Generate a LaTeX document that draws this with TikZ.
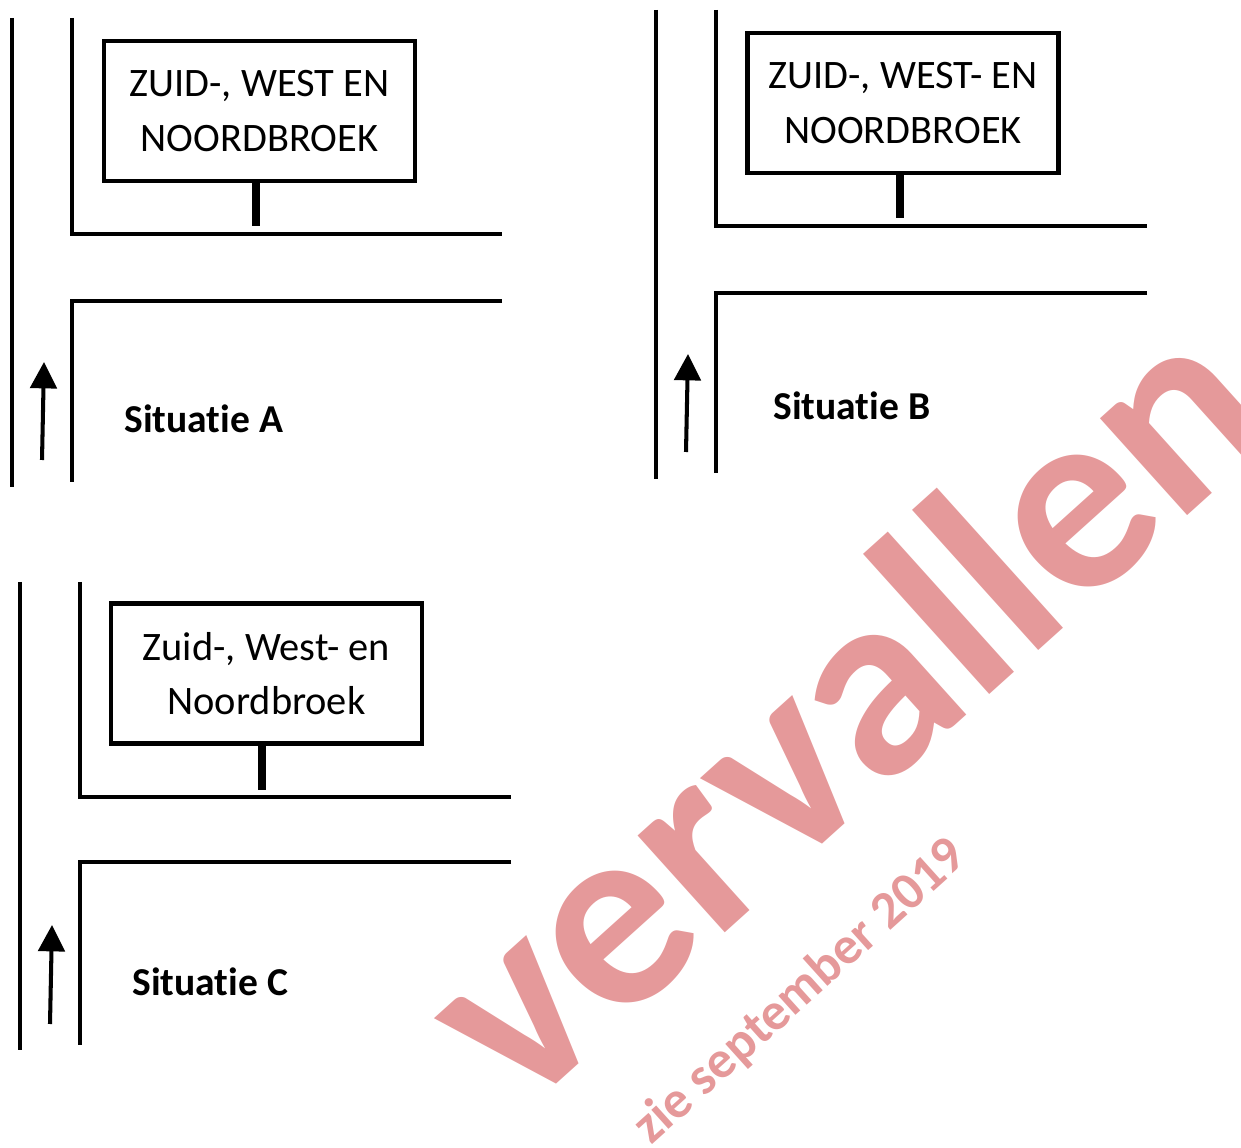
\documentclass[tikz,border=0pt]{standalone}
\usepackage{fontspec}
\setmainfont{Carlito}[Ligatures=NoCommon]
\usetikzlibrary{arrows.meta}
\definecolor{stamppink}{RGB}{229,153,154}

\begin{document}
\begin{tikzpicture}[x=0.02cm, y=-0.02cm,
    road/.style={line width=2.3pt},
    sign/.style={draw, line width=2.5pt, minimum width=6.22cm, minimum height=2.8cm,
        inner sep=0pt, align=center, font=\fontsize{23}{31}\selectfont},
    post/.style={line width=4pt},
    drive/.style={line width=2.3pt, -{Triangle[width=15pt,length=15pt]}},
    caption/.style={anchor=base west, inner sep=0pt, font=\bfseries\fontsize{22.5}{27}\selectfont},
    stamp/.style={anchor=base, inner sep=0pt, text=stamppink, rotate=42}
]

\useasboundingbox (0,0) rectangle (1241,1148);
\clip (0,0) rectangle (1241,1148);

% Situatie A
\draw[road] (12,18) -- (12,487);
\draw[road] (72,18) -- (72,234) -- (502,234);
\draw[road] (502,301) -- (72,301) -- (72,482);
\node[sign] (signA) at (259.5,111) {ZUID-, WEST EN\\NOORDBROEK};
\coordinate (footA) at (256,226);
\draw[post] (signA.south -| footA) -- (footA);
\coordinate (tailA) at (42,460);
\coordinate (tipA) at (44,362);
\draw[drive] (tailA) -- (tipA);
\node[caption] (capA) at (124,433) {Situatie A};

% Situatie B
\draw[road] (656,10) -- (656,479);
\draw[road] (716,10) -- (716,226) -- (1147,226);
\draw[road] (1147,293) -- (716,293) -- (716,473);
\node[sign] (signB) at (903,103) {ZUID-, WEST- EN\\NOORDBROEK};
\coordinate (footB) at (900,218);
\draw[post] (signB.south -| footB) -- (footB);
\coordinate (tailB) at (686,452);
\coordinate (tipB) at (688,354);
\draw[drive] (tailB) -- (tipB);
\node[caption] (capB) at (773,420) {Situatie B};

% Situatie C
\draw[road] (20,582) -- (20,1050);
\draw[road] (80,582) -- (80,797) -- (511,797);
\draw[road] (511,862) -- (80,862) -- (80,1045);
\node[sign] (signC) at (266.5,673.5) {Zuid-, West- en\\Noordbroek};
\coordinate (footC) at (262,790);
\draw[post] (signC.south -| footC) -- (footC);
\coordinate (tailC) at (50,1024);
\coordinate (tipC) at (52,925);
\draw[drive] (tailC) -- (tipC);
\node[caption] (capC) at (132,995) {Situatie C};

% Watermerk
\node[stamp, font=\bfseries\fontsize{153}{153}\selectfont] (stampword) at (902,773) {vervallen};
\node[stamp, font=\bfseries\fontsize{30}{30}\selectfont] (stampdate) at (810,1003) {zie september 2019};

\end{tikzpicture}
\end{document}
